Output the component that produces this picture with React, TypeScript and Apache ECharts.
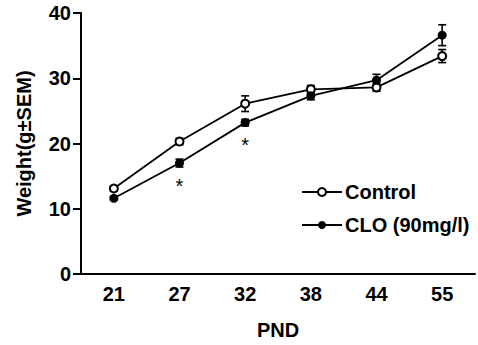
import React, { useEffect, useRef } from "react";
import * as echarts from "echarts";

const categories = ["21", "27", "32", "38", "44", "55"];
const controlValues = [13.1, 20.3, 26.1, 28.3, 28.6, 33.4];
const controlSem = [0.4, 0.5, 1.2, 0.6, 0.6, 1.0];
const cloValues = [11.6, 17.0, 23.2, 27.3, 29.7, 36.6];
const cloSem = [0.3, 0.6, 0.5, 0.6, 0.9, 1.6];
const significant = [false, true, true, false, false, false];
const yTicks = { min: 0, max: 40, interval: 10 };

const FONT = "Liberation Sans, Arial, Helvetica, sans-serif";

function errorSeries(values: number[], sem: number[]) {
  return {
    type: "custom",
    z: 1,
    silent: true,
    renderItem: (params: any, api: any) => {
      const x = api.value(0);
      const lo = api.coord([x, api.value(1)]);
      const hi = api.coord([x, api.value(2)]);
      const w = 4;
      const style = { stroke: "#000", lineWidth: 1.6 };
      return {
        type: "group",
        children: [
          { type: "line", shape: { x1: lo[0], y1: lo[1], x2: hi[0], y2: hi[1] }, style },
          { type: "line", shape: { x1: lo[0] - w, y1: lo[1], x2: lo[0] + w, y2: lo[1] }, style },
          { type: "line", shape: { x1: hi[0] - w, y1: hi[1], x2: hi[0] + w, y2: hi[1] }, style },
        ],
      };
    },
    encode: { x: 0, y: [1, 2] },
    data: values.map((v, i) => [i, v - sem[i], v + sem[i]]),
  };
}

export default function App() {
  const ref = useRef<HTMLDivElement>(null);
  useEffect(() => {
    if (!ref.current) return;
    const chart = echarts.init(ref.current, null, { renderer: "svg" });
    chart.setOption({
      animation: false,
      backgroundColor: "#fff",
      textStyle: { fontFamily: FONT },
      grid: { left: 81, right: 3, top: 13, bottom: 70 },
      legend: {
        orient: "vertical",
        left: 296,
        top: 177,
        itemWidth: 40,
        itemHeight: 10,
        itemGap: 13,
        data: ["Control", "CLO (90mg/l)"],
        textStyle: { fontFamily: FONT, fontSize: 20, fontWeight: "bold", color: "#000", padding: [0, 0, 0, -2] },
      },
      xAxis: {
        type: "category",
        data: categories,
        boundaryGap: true,
        name: "PND",
        nameLocation: "middle",
        nameGap: 46,
        nameTextStyle: { fontFamily: FONT, fontSize: 20, fontWeight: "bold", color: "#000" },
        axisLine: { lineStyle: { color: "#000", width: 2 } },
        axisTick: { alignWithLabel: true, length: 8, lineStyle: { color: "#000", width: 2 } },
        axisLabel: { fontFamily: FONT, fontSize: 20, fontWeight: "bold", color: "#000", margin: 10 },
      },
      yAxis: {
        type: "value",
        min: yTicks.min,
        max: yTicks.max,
        interval: yTicks.interval,
        name: "Weight(g±SEM)",
        nameLocation: "middle",
        nameGap: 47,
        nameTextStyle: { fontFamily: FONT, fontSize: 20, fontWeight: "bold", color: "#000" },
        axisLine: { show: true, lineStyle: { color: "#000", width: 2 } },
        axisTick: { show: true, length: 8, lineStyle: { color: "#000", width: 2 } },
        axisLabel: { fontFamily: FONT, fontSize: 20, fontWeight: "bold", color: "#000", margin: 10 },
        splitLine: { show: false },
      },
      series: [
        errorSeries(controlValues, controlSem),
        errorSeries(cloValues, cloSem),
        {
          name: "Control",
          type: "line",
          z: 3,
          data: controlValues,
          symbol: "emptyCircle",
          symbolSize: 8,
          lineStyle: { color: "#000", width: 1.8 },
          itemStyle: { color: "#000", borderWidth: 2 },
        },
        {
          name: "CLO (90mg/l)",
          type: "line",
          z: 3,
          data: cloValues.map((v, i) =>
            significant[i]
              ? {
                  value: v,
                  label: {
                    show: true,
                    position: "bottom",
                    distance: 8,
                    formatter: "*",
                    fontFamily: FONT,
                    fontSize: 20,
                    color: "#000",
                  },
                }
              : v
          ),
          symbol: "circle",
          symbolSize: 9,
          lineStyle: { color: "#000", width: 1.8 },
          itemStyle: { color: "#000" },
        },
      ],
    });
    return () => chart.dispose();
  }, []);
  return (
    <div
      ref={ref}
      style={{ position: "fixed", left: 0, top: 0, width: 478, height: 345 }}
    />
  );
}
